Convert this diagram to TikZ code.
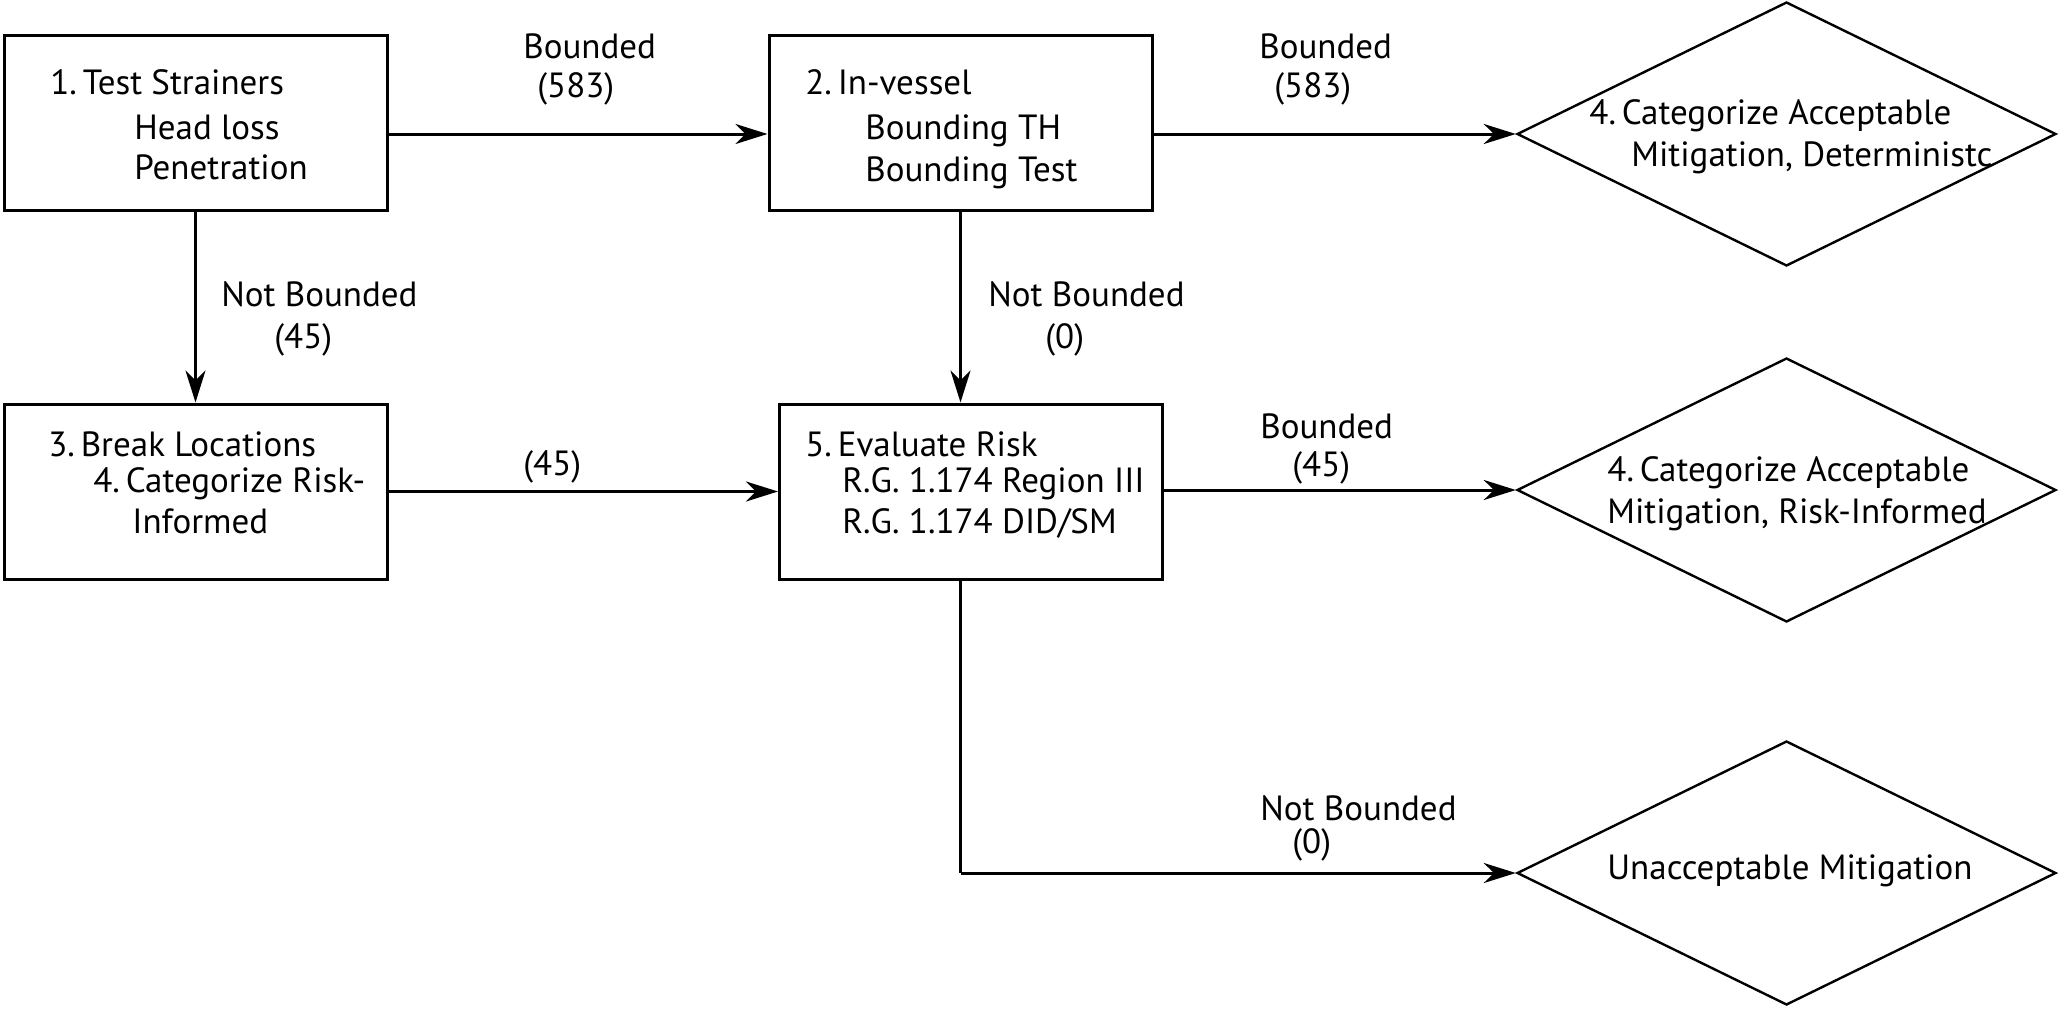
\documentclass[tikz,border=0pt]{standalone}
\usepackage{fontspec}
\setmainfont{PT Sans}
\usetikzlibrary{arrows.meta,shapes.geometric}
\begin{document}
\begin{tikzpicture}[x=0.5pt,y=-0.5pt,
  box/.style={draw,line width=1.5pt,inner sep=0pt,minimum width=191.5pt,minimum height=87.5pt},
  dia/.style={draw,diamond,line width=1.2pt,inner sep=0pt,minimum width=269.5pt,minimum height=132pt},
  arr/.style={line width=1.5pt,-{Stealth[length=16pt,width=10pt,inset=5pt]}},
  conn/.style={line width=1.5pt},
  lbl/.style={anchor=west,inner sep=0pt,text height=11.7pt,text depth=0pt,font=\fontsize{17.5}{20}\selectfont},
]
\useasboundingbox (0,0) rectangle (2059,1011);
% boxes
\node[box] (b1) at (195.5,123) {};
\node[box] (b2) at (960.5,123) {};
\node[box] (b3) at (195.5,491.5) {};
\node[box] (b5) at (971,491.5) {};
% diamonds
\node[dia] (d1) at (1786.5,134) {};
\node[dia] (d2) at (1786.5,490) {};
\node[dia] (d3) at (1786.5,873) {};
% box texts
\node[lbl] (t1a) at (50,83) {1.\,Test Strainers};
\node[lbl] (t1b) at (134,128) {Head loss};
\node[lbl] (t1c) at (134,168) {Penetration};
\node[lbl] (t2a) at (805,83) {2.\,In-vessel};
\node[lbl] (t2b) at (865,128) {Bounding TH};
\node[lbl] (t2c) at (865,170) {Bounding Test};
\node[lbl] (t3a) at (48,445) {3.\,Break Locations};
\node[lbl] (t3b) at (93,481) {4.\,Categorize Risk-};
\node[lbl] (t3c) at (132,522) {Informed};
\node[lbl] (t5a) at (805,445) {5.\,Evaluate Risk};
\node[lbl] (t5b) at (842,481) {R.G. 1.174 Region III};
\node[lbl] (t5c) at (842,522) {R.G. 1.174 DID/SM};
\node[lbl] (td1a) at (1589,113) {4.\,Categorize Acceptable};
\node[lbl] (td1b) at (1631,155) {Mitigation, Deterministc};
\node[lbl] (td2a) at (1607,470) {4.\,Categorize Acceptable};
\node[lbl] (td2b) at (1607,512) {Mitigation, Risk-Informed};
\node[lbl] (td3a) at (1607,868) {Unacceptable Mitigation};
% connectors
\draw[arr] (b1.east |- d1) -- (b2.west |- d1);
\draw[arr] (b2.east |- d1) -- (d1.west);
\draw[arr] (b1.south) -- (b3.north);
\draw[arr] (b2.south) -- (b2.south |- b5.north);
\draw[arr] (b3.east) -- (b5.west);
\draw[arr] (b5.east |- d2) -- (d2.west);
\draw[conn] (b2.south |- b5.south) -- (b2.south |- d3);
\draw[arr] (b2.south |- d3) -- (d3.west);
% connector labels
\node[lbl] (l1a) at (523,47) {Bounded};
\node[lbl] (l1b) at (537,86) {(583)};
\node[lbl] (l2a) at (1259,47) {Bounded};
\node[lbl] (l2b) at (1274,86) {(583)};
\node[lbl] (l3a) at (221,295) {Not Bounded};
\node[lbl] (l3b) at (274,337) {(45)};
\node[lbl] (l4a) at (988,295) {Not Bounded};
\node[lbl] (l4b) at (1045,337) {(0)};
\node[lbl] (l5a) at (523,464) {(45)};
\node[lbl] (l6a) at (1260,427) {Bounded};
\node[lbl] (l6b) at (1292,465) {(45)};
\node[lbl] (l7a) at (1260,809) {Not Bounded};
\node[lbl] (l7b) at (1292,842) {(0)};
\end{tikzpicture}
\end{document}
